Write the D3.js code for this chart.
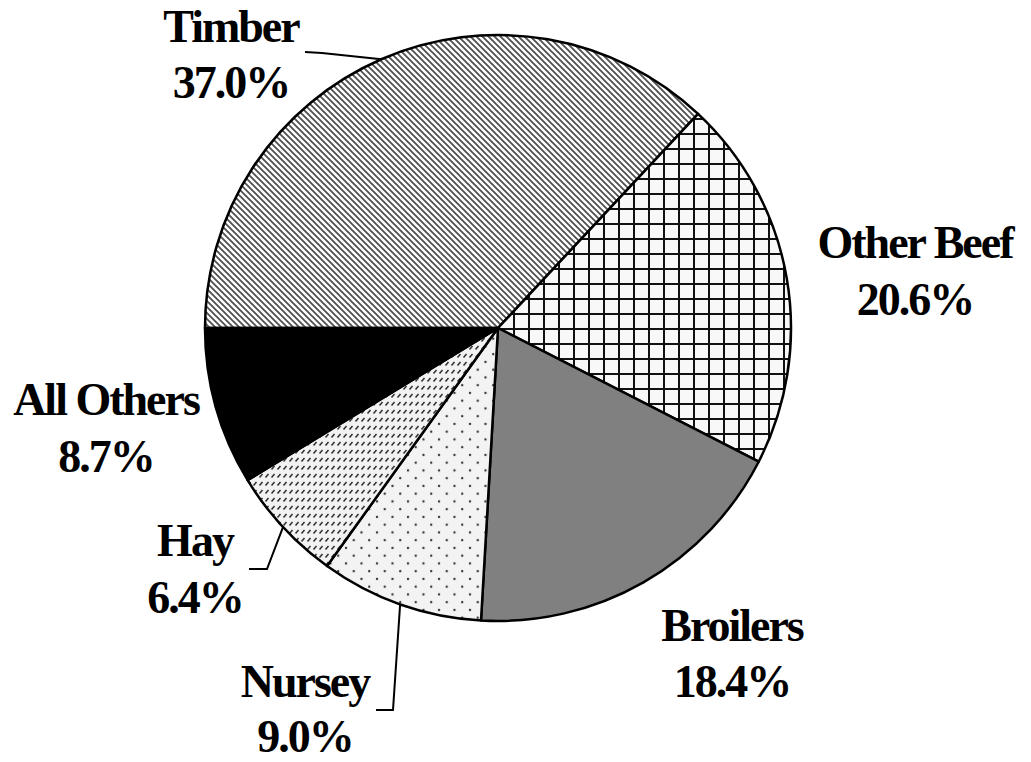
<!DOCTYPE html>
<html>
<head>
<meta charset="utf-8">
<script src="https://cdn.jsdelivr.net/npm/d3@7"></script>
<style>
  html, body { margin: 0; padding: 0; background: #fff; }
  svg { display: block; }
  .lbl { font-family: "Liberation Serif", "Times New Roman", serif; font-weight: bold; font-size: 46px; letter-spacing: -2px; }
</style>
</head>
<body>
<div id="chart"></div>
<script>
// data
const categories = ["Timber", "Other Beef", "Broilers", "Nursey", "Hay", "All Others"];
const shares     = [37.0, 20.6, 18.4, 9.0, 6.4, 8.7];
const shareText  = ["37.0%", "20.6%", "18.4%", "9.0%", "6.4%", "8.7%"];

// layout
const W = 1031, H = 762;
const cx = 498, cy = 328, R = 293;

// label anchors (centre x, first baseline, second baseline)
const labelPos = {
  "Timber":     { x: 231, y1: 42,  y2: 98  },
  "Other Beef": { x: 915, y1: 258, y2: 315 },
  "Broilers":   { x: 732, y1: 641, y2: 697 },
  "Nursey":     { x: 305, y1: 697, y2: 752 },
  "Hay":        { x: 195, y1: 556, y2: 613 },
  "All Others": { x: 106, y1: 415, y2: 472 }
};
// leader elbows: [start, elbow], end is on the rim
const leaders = {
  "Timber": [[305, 52], [322, 53]],
  "Hay":    [[249, 569], [267, 569]],
  "Nursey": [[376, 710], [393, 710]]
};

const svg = d3.select("#chart").append("svg")
  .attr("width", W).attr("height", H);

// ── patterns ─────────────────────────────────────
const defs = svg.append("defs");

// Timber: fine "\" stripes
const pT = defs.append("pattern").attr("id", "pTimber")
  .attr("patternUnits", "userSpaceOnUse").attr("width", 6).attr("height", 6);
pT.append("rect").attr("width", 6).attr("height", 6).attr("fill", "#fff");
pT.append("path").attr("d", "M-1,-1L7,7M-1,5L1,7M5,-1L7,1")
  .attr("stroke", "#505050").attr("stroke-width", 1.8);

// Other Beef: square grid
const pB = defs.append("pattern").attr("id", "pBeef")
  .attr("patternUnits", "userSpaceOnUse").attr("width", 15).attr("height", 15);
pB.append("rect").attr("width", 15).attr("height", 15).attr("fill", "#f8f8f8");
pB.append("path").attr("d", "M0,1H15M1,0V15")
  .attr("stroke", "#111").attr("stroke-width", 2);

// Nursey: staggered dots
const pN = defs.append("pattern").attr("id", "pNursey")
  .attr("patternUnits", "userSpaceOnUse").attr("width", 15.5).attr("height", 15.5);
pN.append("rect").attr("width", 15.5).attr("height", 15.5).attr("fill", "#f3f3f3");
pN.append("circle").attr("cx", 3).attr("cy", 3).attr("r", 1.2).attr("fill", "#333");
pN.append("circle").attr("cx", 10.75).attr("cy", 10.75).attr("r", 1.2).attr("fill", "#333");

// Hay: rows of short "/" dashes
const pH = defs.append("pattern").attr("id", "pHay")
  .attr("patternUnits", "userSpaceOnUse").attr("width", 6).attr("height", 8);
pH.append("rect").attr("width", 6).attr("height", 8).attr("fill", "#f2f2f2");
pH.append("path").attr("d", "M1.5,5.5L4.5,2")
  .attr("stroke", "#333").attr("stroke-width", 1.6);

const fills = {
  "Timber": "url(#pTimber)",
  "Other Beef": "url(#pBeef)",
  "Broilers": "#808080",
  "Nursey": "url(#pNursey)",
  "Hay": "url(#pHay)",
  "All Others": "#000"
};

// ── pie ──────────────────────────────────────────
const data = categories.map((c, i) => ({ name: c, value: shares[i], text: shareText[i] }));

const pie = d3.pie()
  .value(d => d.value)
  .sort(null)
  .startAngle(-Math.PI / 2)
  .endAngle(3 * Math.PI / 2);

const arc = d3.arc().innerRadius(0).outerRadius(R);

const arcs = pie(data);

const g = svg.append("g").attr("transform", `translate(${cx},${cy})`);

g.selectAll("path.slice")
  .data(arcs)
  .join("path")
    .attr("class", "slice")
    .attr("d", arc)
    .attr("fill", d => fills[d.data.name])
    .attr("stroke", "#000")
    .attr("stroke-width", 2.5)
    .attr("stroke-linejoin", "round");

// leader lines
const line = d3.line();
arcs.filter(d => leaders[d.data.name]).forEach(d => {
  const mid = (d.startAngle + d.endAngle) / 2;
  const end = [cx + R * Math.sin(mid), cy - R * Math.cos(mid)];
  const pts = leaders[d.data.name].concat([end]);
  svg.append("path")
    .attr("d", line(pts))
    .attr("fill", "none")
    .attr("stroke", "#000")
    .attr("stroke-width", 2);
});

// labels
const labels = svg.selectAll("g.label")
  .data(arcs)
  .join("g")
    .attr("class", "label");

labels.append("text")
  .attr("class", "lbl")
  .attr("text-anchor", "middle")
  .attr("x", d => labelPos[d.data.name].x)
  .attr("y", d => labelPos[d.data.name].y1)
  .text(d => d.data.name);

labels.append("text")
  .attr("class", "lbl")
  .attr("text-anchor", "middle")
  .attr("x", d => labelPos[d.data.name].x)
  .attr("y", d => labelPos[d.data.name].y2)
  .text(d => d.data.text);
</script>
</body>
</html>
